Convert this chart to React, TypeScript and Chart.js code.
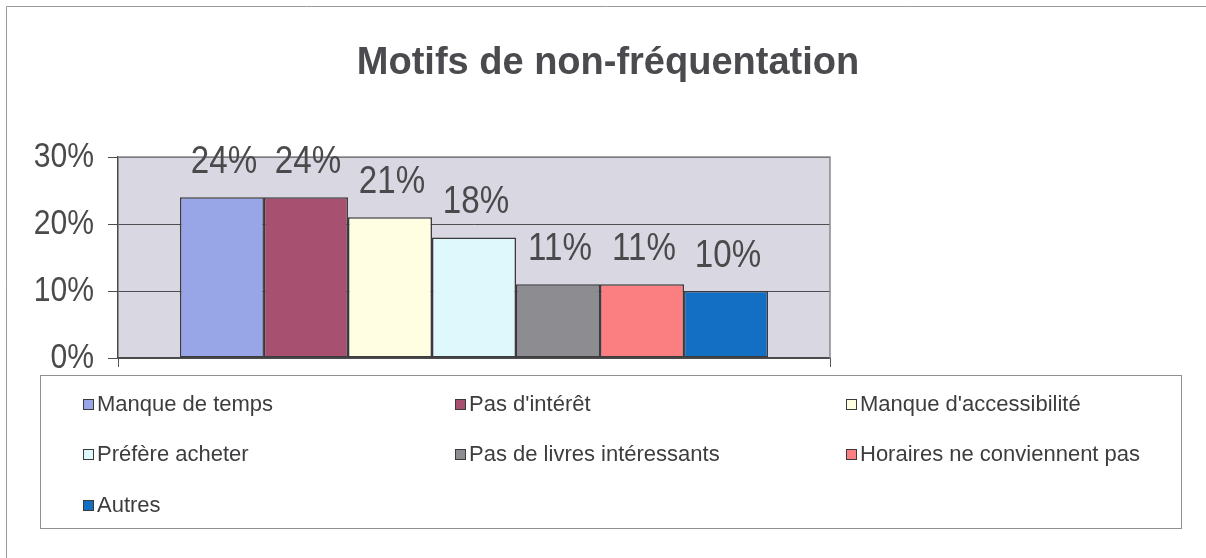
import React, { useEffect, useRef } from "react";
import { Chart, registerables } from "chart.js";

Chart.register(...registerables);

const TITLE = "Motifs de non-fréquentation";
const CATEGORIES = [""];
const SERIES_LABELS = [
  "Manque de temps",
  "Pas d'intérêt",
  "Manque d'accessibilité",
  "Préfère acheter",
  "Pas de livres intéressants",
  "Horaires ne conviennent pas",
  "Autres",
];
const SERIES_VALUES = [24, 24, 21, 18, 11, 11, 10];
const SERIES_COLORS = [
  "#98a5e6",
  "#a8506f",
  "#fffde2",
  "#def8fc",
  "#8d8c91",
  "#fb7f81",
  "#126fc3",
];
const Y_MIN = 0;
const Y_MAX = 30;
const Y_STEP = 10;

const SANS = '"Liberation Sans", Arial, sans-serif';
const TICK_SQUEEZE = 0.86;
const LABEL_SQUEEZE = 0.85;

const titlePlugin = {
  id: "centeredTitle",
  afterDraw(chart: any) {
    const { ctx } = chart;
    ctx.save();
    ctx.fillStyle = "#4b4a4f";
    ctx.font = `bold 38px ${SANS}`;
    ctx.textAlign = "center";
    ctx.textBaseline = "alphabetic";
    ctx.fillText(TITLE, 608, 74);
    ctx.restore();
  },
};

const plotBgPlugin = {
  id: "plotBg",
  afterLayout(chart: any) {
    const s = chart.scales.y;
    if (s && !s.__squeezed) {
      const orig = s.drawLabels.bind(s);
      s.drawLabels = (area: any) => {
        const ctx = chart.ctx;
        const ax = s.right - 10 - 14;
        ctx.save();
        ctx.translate(ax, 0);
        ctx.scale(TICK_SQUEEZE, 1);
        ctx.translate(-ax, 0);
        orig(area);
        ctx.restore();
      };
      s.__squeezed = true;
    }
  },
  beforeDraw(chart: any) {
    const { ctx, chartArea: a } = chart;
    ctx.save();
    ctx.fillStyle = "#d9d7e2";
    ctx.fillRect(a.left, a.top, a.right - a.left, a.bottom - a.top);
    ctx.restore();
  },
  beforeDatasetsDraw(chart: any) {
    const { ctx, chartArea: a } = chart;
    ctx.save();
    ctx.strokeStyle = "#8a8a8e";
    ctx.lineWidth = 1.5;
    ctx.beginPath();
    ctx.moveTo(a.left, a.top);
    ctx.lineTo(a.right, a.top);
    ctx.lineTo(a.right, a.bottom);
    ctx.stroke();
    ctx.restore();
  },
};

const valueLabelPlugin = {
  id: "valueLabels",
  afterDatasetsDraw(chart: any) {
    const { ctx } = chart;
    chart.data.datasets.forEach((ds: any, i: number) => {
      const meta = chart.getDatasetMeta(i);
      const el = meta.data[0];
      if (!el) return;
      const cx = el.x + 2;
      ctx.save();
      ctx.fillStyle = "#4a4a4c";
      ctx.font = `39px ${SANS}`;
      ctx.textAlign = "center";
      ctx.textBaseline = "alphabetic";
      ctx.translate(cx, 0);
      ctx.scale(LABEL_SQUEEZE, 1);
      ctx.fillText(`${ds.data[0]}%`, 0, el.y - 24);
      ctx.restore();
    });
  },
};

const LEGEND_COLS = [83, 455, 846];
const LEGEND_ROWS = [405, 455, 506];

const legendPlugin = {
  id: "boxLegend",
  afterDraw(chart: any) {
    const { ctx } = chart;
    ctx.save();
    ctx.strokeStyle = "#8f8f8f";
    ctx.lineWidth = 1;
    ctx.strokeRect(40.5, 375.5, 1141, 153);
    ctx.font = `22px ${SANS}`;
    ctx.textAlign = "left";
    ctx.textBaseline = "middle";
    chart.data.datasets.forEach((ds: any, i: number) => {
      const col = i % 3;
      const row = Math.floor(i / 3);
      const x = LEGEND_COLS[col];
      const y = LEGEND_ROWS[row];
      ctx.fillStyle = ds.backgroundColor;
      ctx.fillRect(x, y - 6, 11, 11);
      ctx.strokeStyle = "#3a3a3a";
      ctx.lineWidth = 1;
      ctx.strokeRect(x + 0.5, y - 5.5, 10, 10);
      ctx.fillStyle = "#3d3d40";
      ctx.fillText(ds.label, x + 14, y);
    });
    ctx.restore();
  },
};

const framePlugin = {
  id: "frame",
  afterDraw(chart: any) {
    const { ctx } = chart;
    ctx.save();
    ctx.strokeStyle = "#9a9a9a";
    ctx.lineWidth = 1;
    ctx.beginPath();
    ctx.moveTo(6.5, 560);
    ctx.lineTo(6.5, 6.5);
    ctx.lineTo(1206, 6.5);
    ctx.stroke();
    ctx.restore();
  },
};

export default function App() {
  const ref = useRef<HTMLCanvasElement | null>(null);

  useEffect(() => {
    if (!ref.current) return;
    const chart = new Chart(ref.current, {
      type: "bar",
      data: {
        labels: CATEGORIES,
        datasets: SERIES_LABELS.map((label, i) => ({
          label,
          data: [SERIES_VALUES[i]],
          backgroundColor: SERIES_COLORS[i],
          borderColor: "#3a3a3c",
          borderWidth: 1.5,
          borderSkipped: false,
          categoryPercentage: 0.826,
          barPercentage: 1,
        })),
      },
      options: {
        responsive: false,
        animation: false,
        devicePixelRatio: 1,
        layout: { padding: { top: 157, left: 0, right: 376, bottom: 191 } },
        plugins: {
          legend: { display: false },
          tooltip: { enabled: false },
          title: { display: false },
        },
        scales: {
          x: {
            grid: {
              display: true,
              drawOnChartArea: false,
              drawTicks: true,
              tickLength: 9,
              color: "#555558",
            },
            ticks: { display: false },
            border: { display: true, color: "#4a4a4c", width: 1.5 },
          },
          y: {
            min: Y_MIN,
            max: Y_MAX,
            ticks: {
              stepSize: Y_STEP,
              callback: (v: any) => `${v}%`,
              color: "#4a4a4c",
              font: { family: SANS, size: 35 },
              padding: 14,
            },
            grid: { color: "#4e4e50", tickLength: 10, lineWidth: 1 },
            border: { display: true, color: "#4a4a4c", width: 1.5 },
            afterFit: (s: any) => {
              s.width = 118;
            },
          },
        },
      } as any,
      plugins: [plotBgPlugin, valueLabelPlugin, legendPlugin, framePlugin, titlePlugin],
    });
    return () => chart.destroy();
  }, []);

  return (
    <div style={{ position: "absolute", left: 0, top: 0, width: 1206, height: 558, background: "#fff" }}>
      <canvas ref={ref} width={1206} height={558} style={{ display: "block" }} />
    </div>
  );
}
